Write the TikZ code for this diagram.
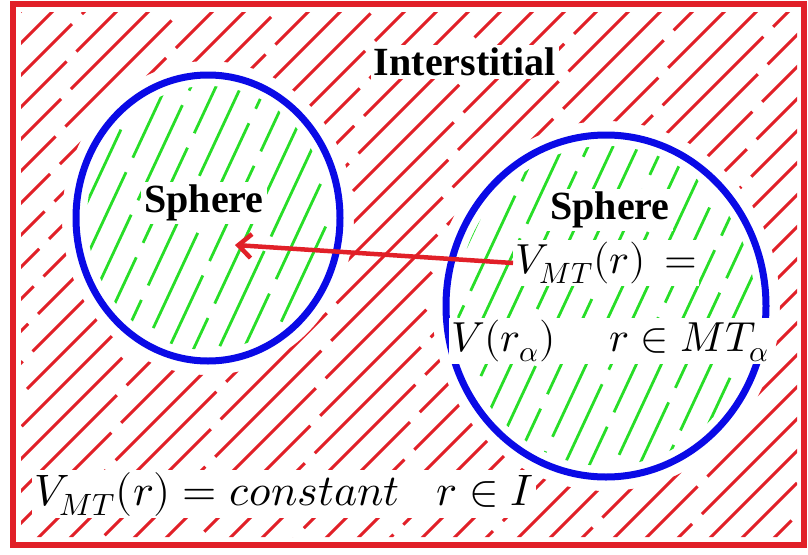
\documentclass[tikz,border=0pt]{standalone}
\usepackage{fontspec}
\usepackage{unicode-math}
\setmainfont{Liberation Serif}
\setmathfont{Latin Modern Math}
\usepackage{xcolor}
\usetikzlibrary{arrows.meta}

\definecolor{hatchred}{RGB}{225,32,40}
\definecolor{hatchgreen}{RGB}{40,222,40}
\definecolor{shellblue}{RGB}{10,10,230}

\begin{document}
\begin{tikzpicture}[
    x=1pt, y=-1pt,
    frame/.style={draw=hatchred, line width=6pt},
    hatch/.style={hatchred, line width=3pt, dash pattern=on 150pt off 14pt},
    inhatch/.style={hatchgreen, line width=2.8pt, dash pattern=on 105pt off 16pt},
    shell/.style={draw=shellblue, line width=7pt},
    lbl/.style={fill=white, inner sep=3pt, font=\bfseries\fontsize{40}{44}\selectfont},
    eq/.style={fill=white, inner sep=2pt, font=\fontsize{42}{46}\selectfont},
    pull/.style={-{Straight Barb[length=13pt,width=24pt]}, draw=hatchred, line width=4.5pt}
]

\useasboundingbox (0,0) rectangle (808,554);
\fill[white] (0,0) rectangle (808,554);

% Sphere centres
\def\lx{208}
\def\ly{218}
\def\rx{606}
\def\ry{306}

% Interstitial hatching
\begin{scope}[even odd rule]
  \clip (21,12) rectangle (797,537)
    (\lx,\ly) ellipse [x radius=146pt, y radius=157pt]
    (\rx,\ry) ellipse [x radius=174pt, y radius=185pt];
  \foreach \i [count=\k] in {-560,-528,...,820}{
    \pgfmathsetmacro{\ph}{mod(\k*53,164)}
    \draw[hatch, dash phase=\ph pt] (\i,560) -- ++(620,-620);
  }
\end{scope}

% Muffin-tin hatching
\begin{scope}
  \clip (\lx,\ly) ellipse [x radius=121pt, y radius=132pt]
        (\rx,\ry) ellipse [x radius=149pt, y radius=160pt];
  \foreach \i [count=\k] in {-180,-155,...,800}{
    \pgfmathsetmacro{\ph}{mod(\k*47,121)}
    \draw[inhatch, dash phase=\ph pt] (\i,560) -- ++(296,-634);
  }
\end{scope}

% Spheres
\draw[shell] (\lx,\ly) ellipse [x radius=132pt, y radius=143pt];
\draw[shell] (\rx,\ry) ellipse [x radius=160pt, y radius=171pt];

% Labels
\node[lbl] (inter) at (465,62) {Interstitial};
\node[lbl] (sphL) at (204,203) {Sphere};
\node[lbl] (sphR) at (610,210) {Sphere};
\node[eq] (vmt) at (606,263) {$V_{MT}(r)\,=$};
\node[eq] (vra) at (610,341) {$V(r_\alpha)\quad\; r\in MT_\alpha$};
\node[eq, font=\fontsize{44}{48}\selectfont] (vconst) at (284,494) {$V_{MT}(r)=constant\;\;\; r\in I$};

\coordinate (tip) at (235,245);
\draw[pull] (vmt.west) -- (tip);

% Outer box
\draw[frame] (13,4) rectangle (804,545);

\end{tikzpicture}
\end{document}
